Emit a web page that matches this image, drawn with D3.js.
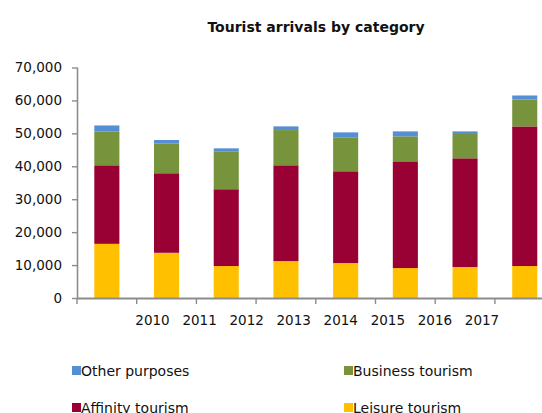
<!DOCTYPE html>
<html>
<head>
<meta charset="utf-8">
<script src="https://cdn.jsdelivr.net/npm/d3@7"></script>
<style>
  html, body { margin: 0; padding: 0; background: #fff; }
  svg { display: block; }
  text { font-family: "DejaVu Sans", Verdana, sans-serif; fill: #111; }
</style>
</head>
<body>
<svg id="chart" width="542" height="413"></svg>
<script>
// Tourist arrivals by category, 2010–2017
const years = ["2010", "2011", "2012", "2013", "2014", "2015", "2016", "2017"];
const leisure  = [16450, 13730,  9700, 11200, 10600,  9090,  9400,  9700];
const affinity = [23850, 24150, 23330, 29100, 27880, 32410, 33020, 42400];
const business = [10300,  8990, 11520, 10700, 10320,  7600,  7380,  8200];
const other    = [ 1800,  1100,   900,  1120,  1500,  1500,   800,  1200];
const yTicks = [0, 10000, 20000, 30000, 40000, 50000, 60000, 70000];

const seriesNames  = ["Leisure tourism", "Affinity tourism", "Business tourism", "Other purposes"];
const seriesColors = ["#ffc000", "#990033", "#77933c", "#558ed5"];
const seriesValues = [leisure, affinity, business, other];

const rows = years.map((y, i) => {
  const r = { year: y };
  seriesNames.forEach((n, k) => { r[n] = seriesValues[k][i]; });
  return r;
});

const svg = d3.select("#chart");

const x = d3.scaleBand()
  .domain(years)
  .range([77, 554.6])
  .paddingInner(0.58)
  .paddingOuter(0.29);

const y = d3.scaleLinear()
  .domain([0, 70000])
  .range([298, 67.5]);

const stack = d3.stack().keys(seriesNames);
const layers = stack(rows);

// stacked bars
svg.append("g")
  .selectAll("g")
  .data(layers)
  .join("g")
  .attr("fill", (d, i) => seriesColors[i])
  .selectAll("rect")
  .data(d => d)
  .join("rect")
  .attr("x", d => x(d.data.year))
  .attr("width", x.bandwidth())
  .attr("y", d => y(d[1]))
  .attr("height", d => y(d[0]) - y(d[1]));

// y axis
const yAxis = svg.append("g")
  .attr("transform", "translate(77,0)")
  .call(d3.axisLeft(y).tickValues(yTicks).tickFormat(d3.format(",")).tickSize(5).tickPadding(10));
yAxis.select(".domain").attr("stroke", "#8c8c8c").attr("stroke-width", 1.6)
  .attr("d", `M0.5,${y(70000)}V${y(0)}`);
yAxis.selectAll(".tick line").attr("stroke", "#8c8c8c").attr("stroke-width", 1.4);
yAxis.selectAll(".tick text")
  .attr("font-size", "13.5px")
  .attr("font-family", "DejaVu Sans, Verdana, sans-serif")
  .attr("fill", "#111");

// x axis line with ticks on band boundaries
const bounds = years.map(d => x(d) - x.step() * x.paddingOuter()).concat([x.range()[1]]);
const xg = svg.append("g");
xg.append("line")
  .attr("x1", 77).attr("x2", 542)
  .attr("y1", y(0) + 0.5).attr("y2", y(0) + 0.5)
  .attr("stroke", "#8c8c8c").attr("stroke-width", 2);
xg.selectAll("line.tk")
  .data(bounds)
  .join("line")
  .attr("class", "tk")
  .attr("x1", d => d).attr("x2", d => d)
  .attr("y1", y(0)).attr("y2", y(0) + 6)
  .attr("stroke", "#8c8c8c").attr("stroke-width", 1.4);

// year labels
const xl = d3.scalePoint().domain(years).range([152.5, 482]);
xg.selectAll("text")
  .data(years)
  .join("text")
  .attr("x", d => xl(d))
  .attr("y", 325)
  .attr("text-anchor", "middle")
  .attr("font-size", "13.5px")
  .text(d => d);

// title
svg.append("text")
  .attr("x", 316)
  .attr("y", 32)
  .attr("text-anchor", "middle")
  .attr("font-size", "14px")
  .attr("font-weight", "bold")
  .text("Tourist arrivals by category");

// legend
const legendItems = [
  { name: "Other purposes",   color: seriesColors[3], x: 72,  y: 366 },
  { name: "Business tourism", color: seriesColors[2], x: 344, y: 366 },
  { name: "Affinity tourism", color: seriesColors[1], x: 72,  y: 403 },
  { name: "Leisure tourism",  color: seriesColors[0], x: 344, y: 403 }
];
const lg = svg.append("g").selectAll("g").data(legendItems).join("g")
  .attr("transform", d => `translate(${d.x},${d.y})`);
lg.append("rect").attr("width", 9).attr("height", 9).attr("fill", d => d.color);
lg.append("text").attr("x", 9).attr("y", 10).attr("font-size", "14px").text(d => d.name);
</script>
</body>
</html>
